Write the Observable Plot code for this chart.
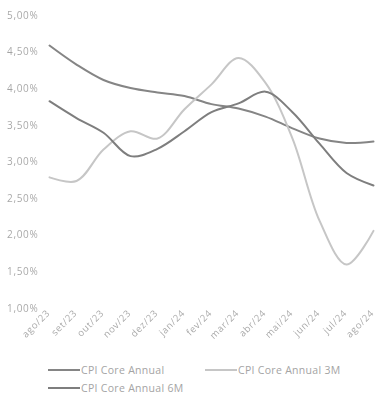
<!DOCTYPE html>
<html>
<head>
<meta charset="utf-8">
<script src="https://cdn.jsdelivr.net/npm/d3@7"></script>
<script src="https://cdn.jsdelivr.net/npm/@observablehq/plot@0.6"></script>
<style>
  body { margin: 0; background: #fff; font-family: "Open Sans", sans-serif; }
  #chart svg { display: block; filter: grayscale(1); }
  .legend { position: relative; height: 53px; font-size: 10.5px; letter-spacing: 0.3px; color: #a4a4a4; }
  .item { position: absolute; display: flex; align-items: center; white-space: nowrap; }
  .sw { display: inline-block; width: 32px; height: 2px; margin-right: 1px; }
</style>
</head>
<body>
<div id="chart"></div>
<script>
const months = ["ago/23","set/23","out/23","nov/23","dez/23","jan/24","fev/24","mar/24","abr/24","mai/24","jun/24","jul/24","ago/24"];
const coreAnnual   = [4.59, 4.33, 4.12, 4.01, 3.95, 3.90, 3.79, 3.73, 3.62, 3.46, 3.32, 3.26, 3.28];
const coreAnnual3M = [2.79, 2.74, 3.17, 3.42, 3.32, 3.72, 4.06, 4.42, 4.08, 3.32, 2.20, 1.60, 2.06];
const coreAnnual6M = [3.83, 3.60, 3.40, 3.08, 3.18, 3.42, 3.68, 3.80, 3.96, 3.68, 3.25, 2.85, 2.68];
const yTicks = [1, 1.5, 2, 2.5, 3, 3.5, 4, 4.5, 5];
const seriesNames = ["CPI Core Annual", "CPI Core Annual 3M", "CPI Core Annual 6M"];
const seriesColors = ["#858585", "#c6c6c6", "#7e7e7e"];

const data = [];
[coreAnnual, coreAnnual3M, coreAnnual6M].forEach((arr, s) => {
  arr.forEach((v, i) => data.push({month: months[i], value: v, series: seriesNames[s]}));
});

const fmt = v => v.toFixed(2).replace(".", ",") + "%";

const plot = Plot.plot({
  width: 377,
  height: 350,
  marginLeft: 47,
  marginRight: 3,
  marginTop: 15,
  marginBottom: 42,
  style: {fontFamily: "'Open Sans', sans-serif", fontSize: "10px", color: "#a4a4a4", background: "#fff", letterSpacing: "0.7px"},
  x: {type: "point", domain: months, padding: 0, label: null},
  y: {domain: [1, 5], label: null},
  color: {domain: seriesNames, range: seriesColors},
  marks: [
    Plot.gridY(yTicks, {stroke: "#d8d8d8", strokeOpacity: 0.35, x1: 45, x2: 377}),
    Plot.axisY(yTicks, {tickSize: 0, tickPadding: 9, tickFormat: fmt, fill: "#000", fillOpacity: 0.36, fontSize: 10}),
    Plot.axisX({tickSize: 0, tickRotate: -45, tickPadding: 3, dx: -1, fill: "#000", fillOpacity: 0.36, fontSize: 9.5}),
    Plot.line(data, {x: "month", y: "value", z: "series", stroke: "series", strokeWidth: 2, curve: "catmull-rom"})
  ]
});
document.getElementById("chart").appendChild(plot);

const legend = document.createElement("div");
legend.className = "legend";
const pos = [[48, 13], [205, 13], [48, 31]];
seriesNames.forEach((name, i) => {
  const it = document.createElement("div");
  it.className = "item";
  it.style.left = pos[i][0] + "px";
  it.style.top = pos[i][1] + "px";
  const sw = document.createElement("span");
  sw.className = "sw";
  sw.style.background = seriesColors[i];
  const t = document.createElement("span");
  t.textContent = name;
  it.appendChild(sw);
  it.appendChild(t);
  legend.appendChild(it);
});
document.body.appendChild(legend);
</script>
</body>
</html>
